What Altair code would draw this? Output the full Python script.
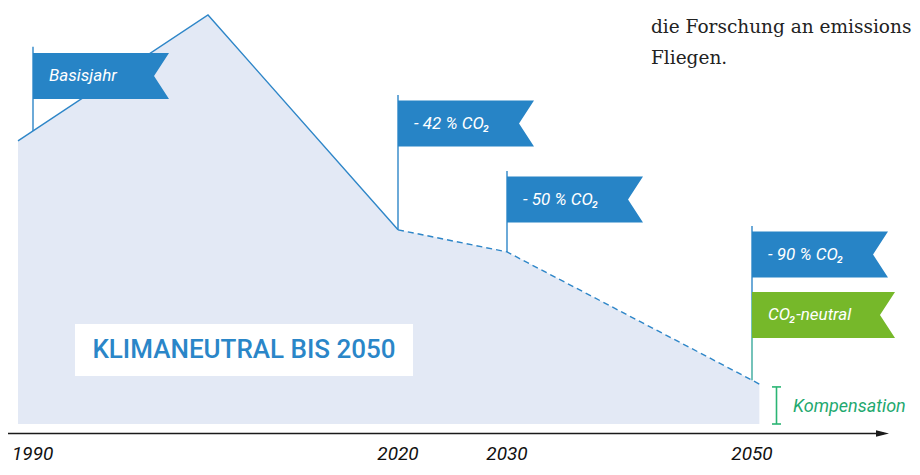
import altair as alt
import pandas as pd

# ---- data ----
years = [1990, 2005, 2020, 2030, 2050, 2050.6]
emissions = [100, 144.5, 68.6, 60.8, 15.5, 14.1]

flag_years = [1990, 2020, 2030, 2050, 2050]
flag_labels = ["Basisjahr", "- 42 % CO₂", "- 50 % CO₂", "- 90 % CO₂", "CO₂-neutral"]

axis_years = [1990, 2020, 2030, 2050]
compensation = [0, 13.1]

note_lines = ["die Forschung an emissions", "Fliegen."]
title_text = "KLIMANEUTRAL BIS 2050"
compensation_label = "Kompensation"

# ---- styles ----
BLUE = "#2784c6"
LINE = "#2e86c8"
AREA = "#e3e9f5"
GREEN_FLAG = "#76b82a"
GREEN = "#1fa96f"
FONT = "Roboto"

df = pd.DataFrame({"year": years, "value": emissions})
solid = df.iloc[0:3]
dashed = df.iloc[2:]


def X(field="year"):
    return alt.X(f"{field}:Q",
                 scale=alt.Scale(domain=[1990, 2020, 2030, 2050],
                                 range=[10, 390, 499, 744], nice=False, zero=False),
                 axis=None)


def Y(field="value"):
    return alt.Y(f"{field}:Q",
                 scale=alt.Scale(domain=[0, 144.5], range=[416, 7], nice=False, zero=False),
                 axis=None)


one = pd.DataFrame({"k": [0]})

area = alt.Chart(df).mark_area(color=AREA, opacity=1).encode(x=X(), y=Y())
line_solid = alt.Chart(solid).mark_line(color=LINE, strokeWidth=1.4).encode(x=X(), y=Y())
line_dash = alt.Chart(dashed).mark_line(color=LINE, strokeWidth=1.4, strokeDash=[6, 4]).encode(x=X(), y=Y())

layers = [area, line_solid, line_dash]

FLAG_PATH = "M0,-0.338L2,-0.338L1.78,0L2,0.338L0,0.338Z"
FLAG_PATH_WIDE = "M0,-0.3217L2,-0.3217L1.79,0L2,0.3217L0,0.3217Z"


def row(year):
    return df[df["year"] == year]


def pole(year, top, color=LINE, bottom=None, xoff=0):
    if bottom is None:
        return alt.Chart(row(year)).mark_rule(color=color, strokeWidth=1.4, xOffset=xoff).encode(
            x=X(), y=Y(), y2=alt.value(top))
    return alt.Chart(row(year)).mark_rule(color=color, strokeWidth=1.4, xOffset=xoff).encode(
        x=X(), y=alt.value(bottom), y2=alt.value(top))


def flag(i, center, color=BLUE, path=FLAG_PATH, size=18496, xoff=0):
    d = pd.DataFrame({"year": [flag_years[i]], "label": [flag_labels[i]]})
    shape = alt.Chart(d).mark_point(shape=path, size=size, filled=True, color=color, fill=color,
                                    opacity=1, strokeWidth=0, xOffset=xoff).encode(
        x=X(), y=alt.value(center))
    text = alt.Chart(d).mark_text(align="left", baseline="middle", dx=16 + xoff, font=FONT,
                                  fontStyle="italic", fontSize=17, color="white").encode(
        x=X(), y=alt.value(center), text="label:N")
    return [shape, text]


# poles
layers.append(pole(1990, 38.7, bottom=123, xoff=15))
layers.append(pole(2020, 87))
layers.append(pole(2030, 163))
layers.append(pole(2050, 292, color="#3aa99c"))
layers.append(pole(2050, 218, bottom=292))

# flags
layers += flag(0, 68, xoff=15)
layers += flag(1, 115.5)
layers += flag(2, 191.5)
layers += flag(3, 246.5)
layers += flag(4, 307, color=GREEN_FLAG, path=FLAG_PATH_WIDE, size=20449)

# title box
layers.append(alt.Chart(one).mark_rect(color="white").encode(
    x=alt.value(67), x2=alt.value(405), y=alt.value(316), y2=alt.value(368)))
layers.append(alt.Chart(one).mark_text(text=title_text, font=FONT, fontSize=26, fontWeight=500,
                                       color="#2a86c8", align="center", baseline="middle").encode(
    x=alt.value(236), y=alt.value(342)))

# compensation bracket
comp_df = pd.DataFrame({"lo": [compensation[0]], "hi": [compensation[1]]})
caps_df = pd.DataFrame({"v": compensation})
layers.append(alt.Chart(comp_df).mark_rule(color="#2bb574", strokeWidth=1.6).encode(
    x=alt.value(768.5), y=Y("lo"), y2="hi:Q"))
layers.append(alt.Chart(caps_df).mark_rule(color="#2bb574", strokeWidth=1.6).encode(
    x=alt.value(764), x2=alt.value(773), y=Y("v")))
layers.append(alt.Chart(one).mark_text(text=compensation_label, font=FONT, fontStyle="italic",
                                       fontSize=18, color=GREEN, align="left", baseline="middle").encode(
    x=alt.value(785), y=alt.value(399)))

# time axis with arrow
layers.append(alt.Chart(one).mark_rule(color="#1a1a1a", strokeWidth=1.6).encode(
    x=alt.value(0), x2=alt.value(876), y=alt.value(425.5)))
layers.append(alt.Chart(one).mark_point(shape="M-1,-0.5L1,0L-1,0.5Z", size=169, filled=True,
                                        color="#1a1a1a", opacity=1, strokeWidth=0).encode(
    x=alt.value(874.5), y=alt.value(425.5)))

yr = pd.DataFrame({"year": axis_years})
layers.append(alt.Chart(yr[yr["year"] != 1990]).mark_text(
    font=FONT, fontStyle="italic", fontSize=19, color="#111", align="center", baseline="middle").encode(
    x=X(), y=alt.value(446), text="year:N"))
layers.append(alt.Chart(yr[yr["year"] == 1990]).mark_text(
    font=FONT, fontStyle="italic", fontSize=19, color="#111", align="left", baseline="middle", dx=-6).encode(
    x=X(), y=alt.value(446), text="year:N"))

# note text top right
layers.append(alt.Chart(one).mark_text(text=note_lines, font="DejaVu Serif", fontSize=18.5, color="#222",
                                       align="left", baseline="alphabetic", lineHeight=31).encode(
    x=alt.value(643), y=alt.value(25)))

chart = alt.layer(*layers).properties(
    width=904, height=459, padding=0, autosize=alt.AutoSizeParams(type="none"),
    background="white"
).configure_view(stroke=None)

chart.save("out.html", embed_options={"renderer": "svg", "actions": False})
